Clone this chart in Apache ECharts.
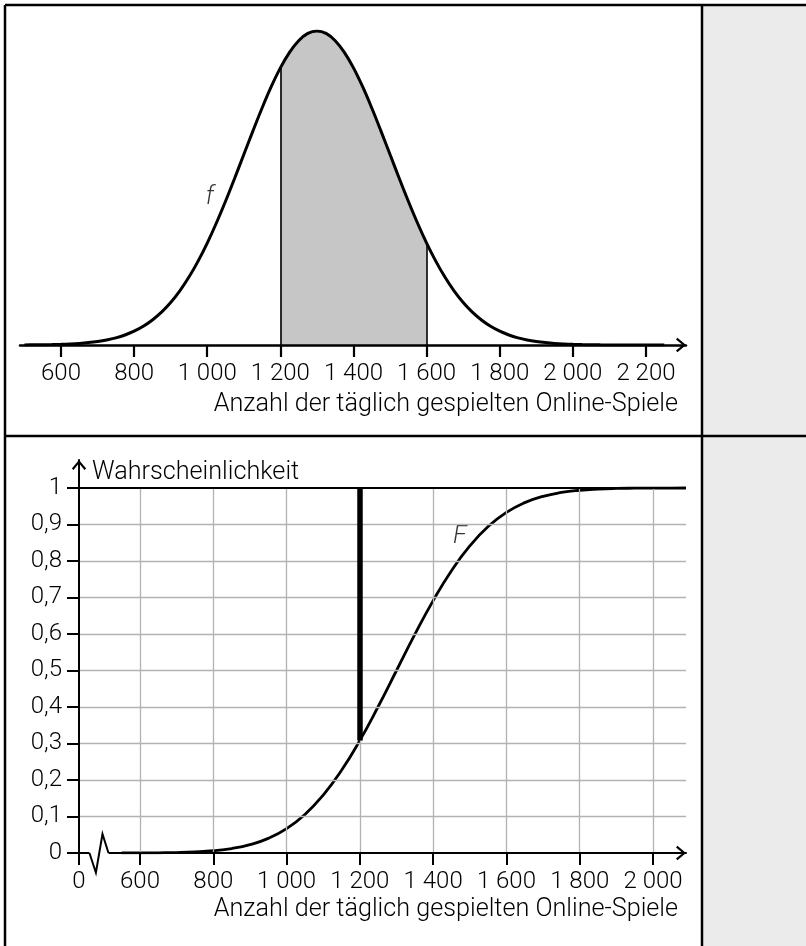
<!DOCTYPE html>
<html><head><meta charset="utf-8">
<script src="https://cdn.jsdelivr.net/npm/echarts@6/dist/echarts.min.js"></script>
<style>html,body{margin:0;padding:0;background:#fff}#c{width:806px;height:946px}</style>
</head><body><div id="c"></div>
<script>
// ---------- data: density f (relative height, peak = 1) ----------
const densityX = [500,525,550,575,600,625,650,675,700,725,750,775,800,825,850,875,900,925,950,975,1000,1025,1050,1075,1100,1125,1150,1175,1200,1225,1250,1275,1300,1325,1350,1375,1400,1425,1450,1475,1500,1525,1550,1575,1600,1625,1650,1675,1700,1725,1750,1775,1800,1825,1850,1875,1900,1925,1950,1975,2000,2025,2050,2075,2100,2150,2200,2250];
const densityY = [0.0003,0.0005,0.0009,0.0014,0.0022,0.0034,0.0051,0.0076,0.0111,0.016,0.0228,0.0319,0.0439,0.0596,0.0796,0.1046,0.1353,0.1724,0.2163,0.2671,0.3247,0.3886,0.4578,0.5311,0.6065,0.6819,0.7548,0.8226,0.8825,0.9321,0.9692,0.9922,1.0,0.9922,0.9692,0.9321,0.8825,0.8226,0.7548,0.6819,0.6065,0.5311,0.4578,0.3886,0.3247,0.2671,0.2163,0.1724,0.1353,0.1046,0.0796,0.0596,0.0439,0.0319,0.0228,0.016,0.0111,0.0076,0.0051,0.0034,0.0022,0.0014,0.0009,0.0005,0.0003,0.0001,0,0];
const shadeFrom = 1200, shadeTo = 1600;
const topTicks = [600,800,1000,1200,1400,1600,1800,2000,2200];
const fLabelPos = [1007, 0.47];

// ---------- data: distribution function F ----------
const cdfX = [550,600,650,700,750,800,850,900,950,1000,1050,1100,1150,1200,1250,1300,1350,1400,1450,1500,1550,1600,1650,1700,1750,1800,1850,1900,1950,2000,2050,2090];
const cdfY = [0.0001,0.0002,0.0006,0.0013,0.003,0.0062,0.0122,0.0228,0.0401,0.0668,0.1056,0.1587,0.2266,0.3085,0.4013,0.5,0.5987,0.6915,0.7734,0.8413,0.8944,0.9332,0.9599,0.9772,0.9878,0.9938,0.997,0.9987,0.9994,0.9998,0.9999,1.0];
const bottomTicksX = [600,800,1000,1200,1400,1600,1800,2000];
const bottomTicksY = [0,0.1,0.2,0.3,0.4,0.5,0.6,0.7,0.8,0.9,1];
const bottomLabelsY = ['0','0,1','0,2','0,3','0,4','0,5','0,6','0,7','0,8','0,9','1'];
const markedX = 1200, markedP = 0.3085;
const FLabelPos = [1473, 0.866];
const breakX = [462, 479.6, 497.6, 514];
const breakY = [0, -0.054, 0.052, 0];

// ---------- axis extents ----------
const topXMin = 487.9, topXMax = 2309.4;
const botXMin = 433.5, botXMax = 2090, botYMax = 1.0767;

const xName = 'Anzahl der täglich gespielten Online-Spiele';
const FONT = 'Roboto';
const TXT = '#000';
const arrowPath = 'path://M7,0 L14,8.4 L12.4,9.8 L7,3.2 L1.6,9.8 L0,8.4 Z';

function fmt(v){
  if (v >= 1000) return Math.floor(v/1000) + ' ' + String(v % 1000).padStart(3,'0');
  return String(v);
}
const labelStyle = {fontSize:24, color:TXT, fontFamily:FONT, fontWeight:300};
const nameStyle = {fontSize:25.2, color:TXT, fontFamily:FONT, fontWeight:300};

const chart = echarts.init(document.getElementById('c'), null, {renderer:'canvas'});
const densityData = densityX.map((x,i)=>[x,densityY[i]]);
const shadeData = densityData.filter(p => p[0] >= shadeFrom && p[0] <= shadeTo);
const yAt = x => densityY[densityX.indexOf(x)];

const option = {
  animation:false,
  backgroundColor:'#fff',
  graphic:[
    {type:'rect', shape:{x:702,y:5,width:110,height:950}, style:{fill:'#ebebeb'}, z:-5},
    {type:'line', shape:{x1:5,y1:5,x2:810,y2:5}, style:{stroke:'#000',lineWidth:2.5}, z:50},
    {type:'line', shape:{x1:5,y1:5,x2:5,y2:950}, style:{stroke:'#000',lineWidth:2.5}, z:50},
    {type:'line', shape:{x1:702,y1:5,x2:702,y2:950}, style:{stroke:'#000',lineWidth:2.5}, z:50},
    {type:'line', shape:{x1:5,y1:436,x2:810,y2:436}, style:{stroke:'#000',lineWidth:2.5}, z:50}
  ],
  grid:[
    {left:20, top:31, width:666, height:314},
    {left:79, top:460, width:607, height:393}
  ],
  xAxis:[
    {gridIndex:0, type:'value', min:topXMin, max:topXMax, z:10,
     axisLine:{show:true, onZero:false, lineStyle:{color:'#000', width:2.5}, symbol:['none', arrowPath], symbolSize:[15,10], symbolOffset:[0,-5]},
     axisTick:{show:true, customValues:topTicks, length:12, lineStyle:{color:'#000', width:2.2}},
     axisLabel:Object.assign({customValues:topTicks, formatter:fmt, margin:17}, labelStyle),
     splitLine:{show:false},
     name:xName, nameLocation:'end', nameGap:-8,
     nameTextStyle:Object.assign({align:'right', verticalAlign:'top', padding:[47,0,0,0]}, nameStyle)
    },
    {gridIndex:1, type:'value', min:botXMin, max:botXMax, z:10,
     axisLine:{show:true, onZero:false, lineStyle:{color:'#000', width:2}, symbol:['none', arrowPath], symbolSize:[15,10], symbolOffset:[0,-5]},
     axisTick:{show:true, customValues:[botXMin].concat(bottomTicksX), length:12, lineStyle:{color:'#000', width:2}},
     axisLabel:Object.assign({customValues:[botXMin].concat(bottomTicksX), formatter:v => (v === botXMin ? '0' : fmt(v)), margin:17}, labelStyle),
     splitLine:{show:false},
     name:xName, nameLocation:'end', nameGap:-8,
     nameTextStyle:Object.assign({align:'right', verticalAlign:'top', padding:[44,0,0,0]}, nameStyle)
    }
  ],
  yAxis:[
    {gridIndex:0, type:'value', min:0, max:1, show:false, splitLine:{show:false}},
    {gridIndex:1, type:'value', min:0, max:botYMax, z:10,
     axisLine:{show:true, onZero:false, lineStyle:{color:'#000', width:2}, symbol:['none', arrowPath], symbolSize:[15,10], symbolOffset:[0,-5]},
     axisTick:{show:true, customValues:bottomTicksY, length:12, lineStyle:{color:'#000', width:2}},
     axisLabel:Object.assign({customValues:bottomTicksY, formatter:v => bottomLabelsY[Math.round(v*10)], margin:17}, labelStyle),
     splitLine:{show:false},
     name:'Wahrscheinlichkeit', nameLocation:'end', nameGap:-13,
     nameTextStyle:Object.assign({align:'left', verticalAlign:'middle', padding:[0,0,0,13]}, nameStyle)
    }
  ],
  series:[
    // shaded area
    {type:'line', xAxisIndex:0, yAxisIndex:0, data:shadeData, smooth:true, showSymbol:false,
     lineStyle:{width:0, opacity:0}, areaStyle:{color:'#c6c6c6', opacity:1}, z:1,
     markLine:{silent:true, symbol:['none','none'], label:{show:false}, lineStyle:{color:'#000', width:1.6, type:'solid'},
       data:[[{coord:[shadeFrom,0]},{coord:[shadeFrom,yAt(shadeFrom)]}],[{coord:[shadeTo,0]},{coord:[shadeTo,yAt(shadeTo)]}]]}
    },
    // density f
    {type:'line', xAxisIndex:0, yAxisIndex:0, data:densityData, smooth:0.4, showSymbol:false,
     lineStyle:{color:'#000', width:3}, z:3},
    {type:'scatter', xAxisIndex:0, yAxisIndex:0, data:[fLabelPos], symbolSize:1, itemStyle:{color:'rgba(0,0,0,0)'},
     label:{show:true, position:'inside', formatter:'f', fontSize:25, fontStyle:'italic', color:TXT, fontFamily:FONT, fontWeight:300}, z:4},
    // grid lines of bottom chart
    {type:'line', xAxisIndex:1, yAxisIndex:1, data:[], z:1,
     markLine:{silent:true, symbol:['none','none'], label:{show:false}, lineStyle:{color:'#b2b2b2', width:1.3, type:'solid'},
       data: bottomTicksX.map(x => [{coord:[x,0]},{coord:[x,1]}])
         .concat(bottomTicksY.filter(v => v > 0 && v < 1).map(v => ({yAxis:v})))
         .concat([{yAxis:1, lineStyle:{color:'#000', width:2}}])
     }
    },
    // distribution function F
    {type:'line', xAxisIndex:1, yAxisIndex:1, data:cdfX.map((x,i)=>[x,cdfY[i]]), smooth:true, showSymbol:false,
     lineStyle:{color:'#000', width:2.8}, z:3,
     markLine:{silent:true, symbol:['none','none'], label:{show:false}, lineStyle:{color:'#000', width:5.5, type:'solid', cap:'butt'},
       data:[[{coord:[markedX,markedP]},{coord:[markedX,1]}]]}
    },
    {type:'scatter', xAxisIndex:1, yAxisIndex:1, data:[FLabelPos], symbolSize:1, itemStyle:{color:'rgba(0,0,0,0)'},
     label:{show:true, position:'inside', formatter:'F', fontSize:25, fontStyle:'italic', color:TXT, fontFamily:FONT, fontWeight:300}, z:4},
    // axis break on bottom x axis
    {type:'line', xAxisIndex:1, yAxisIndex:1, data:[[breakX[0],0],[breakX[3],0]], showSymbol:false, clip:false,
     lineStyle:{color:'#fff', width:5}, z:11},
    {type:'line', xAxisIndex:1, yAxisIndex:1, data:breakX.map((x,i)=>[x,breakY[i]]), showSymbol:false, clip:false,
     lineStyle:{color:'#000', width:2, join:'miter'}, z:12}
  ]
};
chart.setOption(option);
</script></body></html>
